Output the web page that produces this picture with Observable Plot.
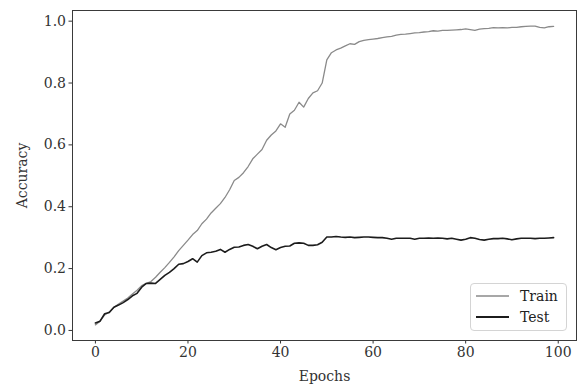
<!DOCTYPE html>
<html>
<head>
<meta charset="utf-8">
<script src="https://cdn.jsdelivr.net/npm/d3@7"></script>
<script src="https://cdn.jsdelivr.net/npm/@observablehq/plot@0.6"></script>
<style>
  html, body { margin: 0; padding: 0; background: white; }
  #wrap { position: relative; width: 577px; height: 387px; }
  #legend { position: absolute; left: 470px; top: 283px; width: 97px; height: 48px;
    border: 1px solid #d4d4d4; border-radius: 4px; background: rgba(255,255,255,0.85);
    font-family: "DejaVu Serif", serif; font-size: 14px; color: #222; box-sizing: border-box; }
  .row { position: absolute; left: 5px; height: 20px; display: flex; align-items: center; }
  .row span { margin-left: 11px; }
</style>
</head>
<body>
<div id="wrap"></div>
<script>
const seriesNames = ["Train", "Test"];
const seriesColors = ["#8a8a8a", "#1c1c1c"];
const seriesWidths = [1.3, 1.6];
const xTicks = [0, 20, 40, 60, 80, 100];
const yTicks = [0.0, 0.2, 0.4, 0.6, 0.8, 1.0];
const xLabel = "Epochs";
const yLabel = "Accuracy";

const trainAcc = [
  0.018, 0.030, 0.050, 0.060, 0.075, 0.085, 0.095, 0.105, 0.118, 0.130,
  0.145, 0.152, 0.158, 0.172, 0.188, 0.203, 0.220, 0.238, 0.258, 0.275,
  0.292, 0.310, 0.323, 0.345, 0.360, 0.380, 0.395, 0.410, 0.430, 0.455,
  0.485, 0.495, 0.510, 0.530, 0.555, 0.570, 0.585, 0.615, 0.632, 0.645,
  0.668, 0.657, 0.700, 0.712, 0.738, 0.722, 0.750, 0.768, 0.775, 0.800,
  0.875, 0.898, 0.907, 0.913, 0.920, 0.927, 0.925, 0.934, 0.938, 0.940,
  0.942, 0.944, 0.947, 0.949, 0.951, 0.955, 0.957, 0.958, 0.960, 0.962,
  0.963, 0.965, 0.966, 0.969, 0.968, 0.970, 0.970, 0.971, 0.972, 0.973,
  0.975, 0.973, 0.970, 0.974, 0.976, 0.977, 0.979, 0.978, 0.979, 0.978,
  0.980, 0.980, 0.982, 0.983, 0.984, 0.984, 0.980, 0.978, 0.982, 0.983
];
const testAcc = [
  0.024, 0.030, 0.054, 0.058, 0.075, 0.082, 0.090, 0.100, 0.112, 0.120,
  0.140, 0.152, 0.153, 0.152, 0.165, 0.178, 0.188, 0.200, 0.214, 0.216,
  0.223, 0.232, 0.221, 0.242, 0.251, 0.253, 0.256, 0.262, 0.253, 0.262,
  0.269, 0.270, 0.275, 0.278, 0.272, 0.264, 0.272, 0.278, 0.268, 0.261,
  0.268, 0.272, 0.273, 0.282, 0.283, 0.282, 0.275, 0.275, 0.277, 0.285,
  0.302, 0.302, 0.304, 0.302, 0.301, 0.302, 0.300, 0.301, 0.302, 0.302,
  0.301, 0.300, 0.300, 0.298, 0.295, 0.298, 0.298, 0.298, 0.298, 0.295,
  0.298, 0.298, 0.299, 0.298, 0.299, 0.298, 0.296, 0.298, 0.295, 0.292,
  0.295, 0.300, 0.298, 0.294, 0.292, 0.295, 0.297, 0.297, 0.298, 0.296,
  0.293, 0.296, 0.298, 0.298, 0.298, 0.297, 0.298, 0.298, 0.299, 0.300
];

const allSeries = [trainAcc, testAcc];
const rows = [];
allSeries.forEach((arr, s) => arr.forEach((v, i) => rows.push({epoch: i, acc: v, series: seriesNames[s]})));

const chart = Plot.plot({
  width: 577, height: 387,
  marginLeft: 72, marginRight: 1, marginTop: 10, marginBottom: 47,
  style: { fontFamily: "DejaVu Serif, serif", fontSize: "14px", color: "#333", background: "white", overflow: "visible" },
  x: { domain: [-4.95, 103.95] },
  y: { domain: [-0.0325, 1.0345] },
  marks: [
    Plot.axisX({ ticks: xTicks, tickSize: 3.5, tickPadding: 3, tickFormat: d => String(d),
      label: xLabel, labelAnchor: "center", labelArrow: "none", labelOffset: 40, stroke: "#333" }),
    Plot.axisY({ ticks: yTicks, tickSize: 3.5, tickPadding: 3, tickFormat: d => d.toFixed(1),
      label: yLabel, labelAnchor: "center", labelArrow: "none", labelOffset: 55, stroke: "#333" }),
    Plot.line(rows, { x: "epoch", y: "acc", z: "series",
      stroke: d => seriesColors[seriesNames.indexOf(d.series)],
      strokeWidth: d => seriesWidths[seriesNames.indexOf(d.series)] }),
    Plot.frame({ stroke: "#3a3a3a", strokeWidth: 1 })
  ]
});
const wrap = document.getElementById("wrap");
wrap.appendChild(chart);

// legend
const leg = document.createElement("div");
leg.id = "legend";
seriesNames.forEach((name, i) => {
  const r = document.createElement("div");
  r.className = "row";
  r.style.top = (2 + i * 21) + "px";
  r.innerHTML = `<svg width="33" height="4"><line x1="0" x2="33" y1="2" y2="2" stroke="${seriesColors[i]}" stroke-width="${seriesWidths[i] + 0.2}"/></svg><span>${name}</span>`;
  leg.appendChild(r);
});
wrap.appendChild(leg);
</script>
</body>
</html>
